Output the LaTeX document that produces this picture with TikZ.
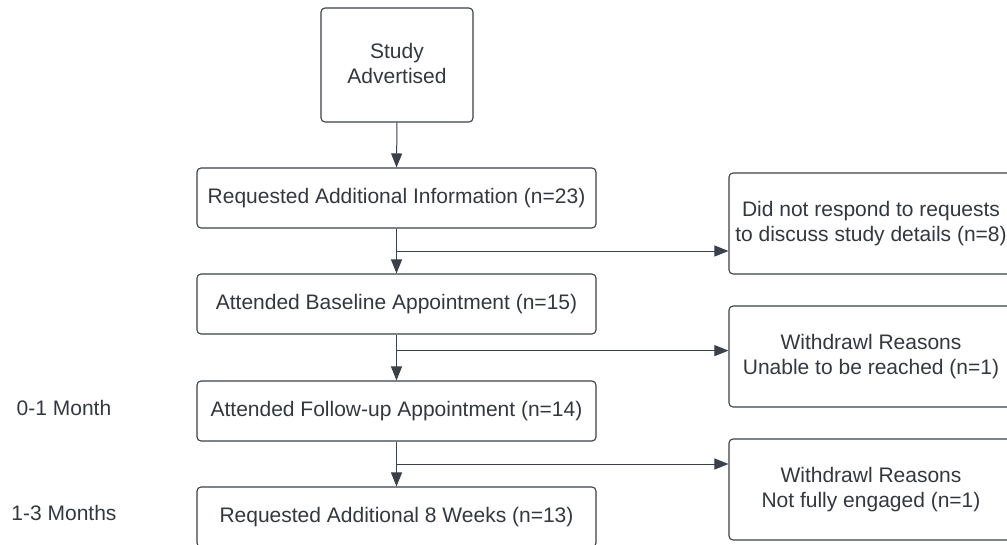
\documentclass[tikz,border=0pt]{standalone}
\usepackage{fontspec}
\setmainfont{Liberation Sans}
\usetikzlibrary{arrows.meta,calc}
\definecolor{linecol}{HTML}{3A414A}
\definecolor{textcol}{HTML}{333840}
\tikzset{
  every node/.style={font=\fontsize{21}{25}\selectfont, text=textcol},
  box/.style={draw=linecol, line width=1.1pt, rounded corners=4pt, fill=white,
    align=center, inner sep=0pt, minimum width=399pt, minimum height=60pt},
  sidebox/.style={box, minimum width=284pt, minimum height=101pt},
  topbox/.style={box, minimum width=152pt, minimum height=114pt},
  flow/.style={draw=linecol, line width=1pt, -{Triangle[length=14pt,width=11pt]}}
}
\begin{document}
\begin{tikzpicture}[x=1pt,y=-1pt]
  \useasboundingbox (0,0) rectangle (1007,544);
  \begin{scope}
  \clip (0,0) rectangle (1007,544);

  % main column
  \node[topbox] (adv)  at (397,65)    {};
  \node (advtext) at (397,63) [align=center] {Study\\Advertised};
  \node[box]    (req)  at (396.5,198) {Requested Additional Information (n=23)};
  \node[box]    (base) at (396.5,304) {Attended Baseline Appointment (n=15)};
  \node[box]    (fup)  at (396.5,411) {Attended Follow-up Appointment (n=14)};
  \node[box]    (ext)  at (396.5,517) {Requested Additional 8 Weeks (n=13)};

  % drop-out boxes
  \node[sidebox] (drop1) at (871,223.5) {Did not respond to requests\\to discuss study details (n=8)};
  \node[sidebox] (drop2) at (871,356.5) {Withdrawl Reasons\\Unable to be reached (n=1)};
  \node[sidebox] (drop3) at (871,489.5) {Withdrawl Reasons\\Not fully engaged (n=1)};

  % time labels
  \node (t1) at (64,408) {0-1 Month};
  \node (t2) at (64,513) {1-3 Months};

  % branch points on the main line
  \coordinate (b1) at ($(req.south)!0.5!(base.north)$);
  \coordinate (b2) at ($(base.south)!0.35!(fup.north)$);
  \coordinate (b3) at ($(fup.south)!0.5!(ext.north)$);

  % vertical flow
  \draw[flow] (adv.south) -- (req.north);
  \draw[flow] (req.south) -- (base.north);
  \draw[flow] (base.south) -- (fup.north);
  \draw[flow] (fup.south) -- (ext.north);

  % branches to drop-out boxes
  \draw[flow] (b1) -- (b1 -| drop1.west);
  \draw[flow] (b2) -- (b2 -| drop2.west);
  \draw[flow] (b3) -- (b3 -| drop3.west);
  \end{scope}
\end{tikzpicture}
\end{document}
